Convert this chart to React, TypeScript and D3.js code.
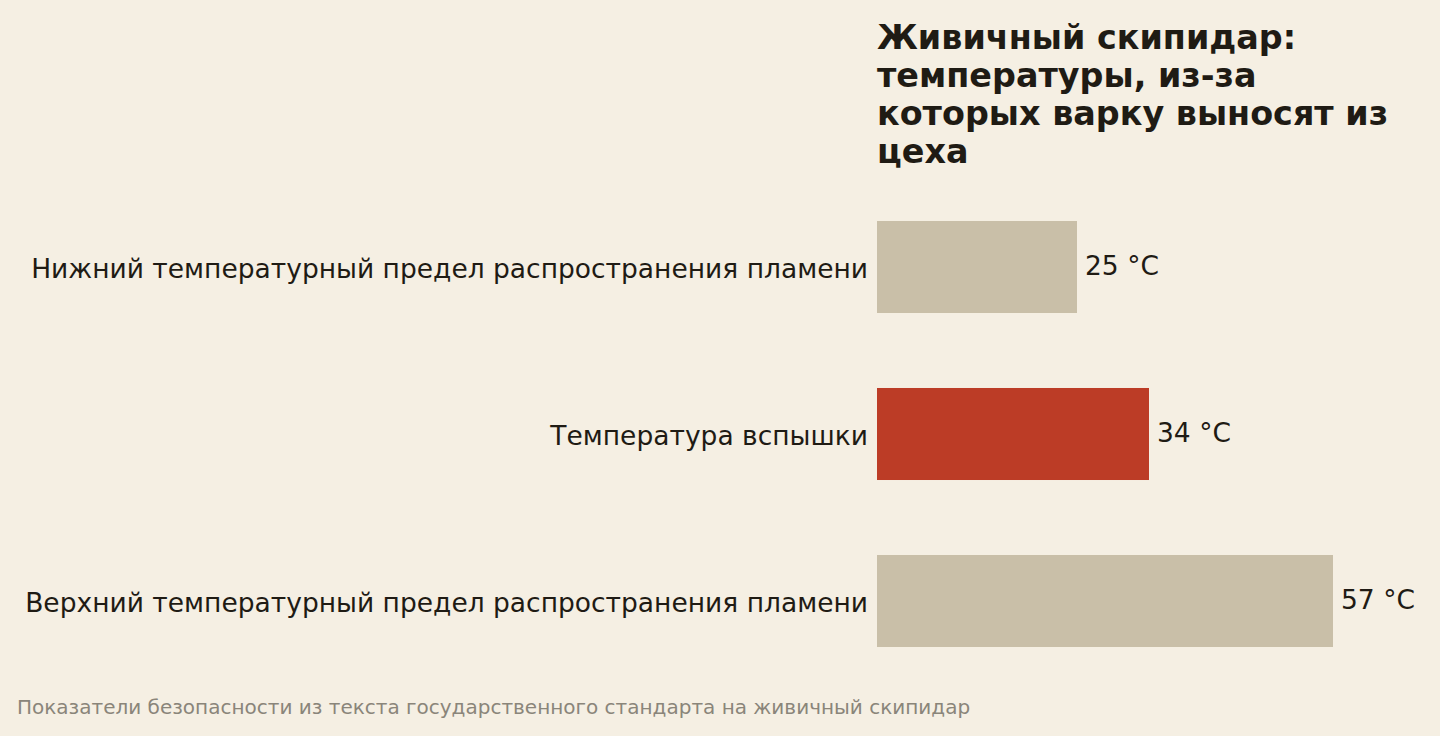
import React from "react";
import * as d3 from "d3";

const categories = [
  "Нижний температурный предел распространения пламени",
  "Температура вспышки",
  "Верхний температурный предел распространения пламени",
];
const values = [25, 34, 57];
const highlight = [false, true, false];
const unit = " °C";
const titleLines = [
  "Живичный скипидар:",
  "температуры, из-за",
  "которых варку выносят из",
  "цеха",
];
const footnote =
  "Показатели безопасности из текста государственного стандарта на живичный скипидар";

const W = 1440;
const H = 736;
const FONT = "'DejaVu Sans', sans-serif";

export default function App() {
  const x = d3.scaleLinear().domain([0, 57]).range([877, 1333]);
  const y = d3
    .scaleBand<string>()
    .domain(categories)
    .range([183.5, 684.5])
    .paddingInner(0.449)
    .paddingOuter(0.2245);

  return (
    <svg
      width={W}
      height={H}
      style={{ position: "absolute", left: 0, top: 0, display: "block" }}
      fontFamily={FONT}
    >
      <rect width={W} height={H} fill="#f5efe3" />
      <text x={877} fill="#1f1b14" fontSize={33.4} fontWeight="bold">
        {titleLines.map((l, i) => (
          <tspan key={i} x={877} y={49 + i * 38}>
            {l}
          </tspan>
        ))}
      </text>
      {categories.map((c, i) => {
        const y0 = y(c)!;
        const bw = y.bandwidth();
        return (
          <g key={c}>
            <rect
              x={x(0)}
              y={y0}
              width={x(values[i]) - x(0)}
              height={bw}
              fill={highlight[i] ? "#bc3c26" : "#c9bfa8"}
            />
            <text
              x={x(0) - 9}
              y={y0 + bw / 2 + 11}
              textAnchor="end"
              fontSize={26.5}
              fill="#1f1b14"
            >
              {c}
            </text>
            <text
              x={x(values[i]) + 8}
              y={y0 + bw / 2 + 8}
              fontSize={26.5}
              fill="#1f1b14"
            >
              {values[i] + unit}
            </text>
          </g>
        );
      })}
      <text x={17} y={714} fontSize={20} fill="#8a857a">
        {footnote}
      </text>
    </svg>
  );
}
